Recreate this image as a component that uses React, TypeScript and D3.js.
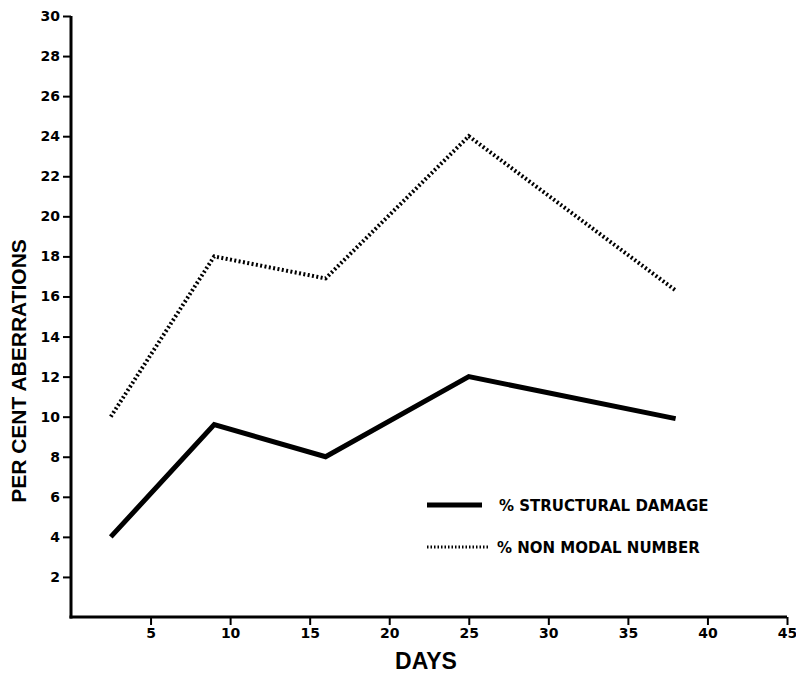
import React, { useEffect, useRef } from 'react';
import * as d3 from 'd3';

const days = [2.5, 9, 16, 25, 38];
const structuralDamage = [4, 9.6, 8, 12, 9.9];
const nonModalNumber = [10, 18, 16.9, 24, 16.3];
const xTicks = [5, 10, 15, 20, 25, 30, 35, 40, 45];
const yTicks = [2, 4, 6, 8, 10, 12, 14, 16, 18, 20, 22, 24, 26, 28, 30];

const FONT = '"Liberation Sans", Arial, sans-serif';
const WIDE_FONT = '"DejaVu Sans", sans-serif';

const App = () => {
  const svgRef = useRef<SVGSVGElement | null>(null);

  useEffect(() => {
    const svg = d3.select(svgRef.current);
    svg.selectAll('*').remove();

    const x = d3.scaleLinear().domain([0, 45]).range([71, 787]);
    const y = d3.scaleLinear().domain([0, 30]).range([617, 16]);

    // axes
    const xAxis = svg.append('g').attr('transform', `translate(0,${y(0)})`)
      .call(d3.axisBottom(x).tickValues(xTicks).tickSize(8).tickPadding(3).tickSizeOuter(0));
    const yAxis = svg.append('g').attr('transform', `translate(${x(0)},0)`)
      .call(d3.axisLeft(y).tickValues(yTicks).tickSize(8).tickPadding(3).tickSizeOuter(0));

    [xAxis, yAxis].forEach(a => {
      a.select('.domain').attr('stroke', '#000').attr('stroke-width', 3);
      a.selectAll('.tick line').attr('stroke', '#000').attr('stroke-width', 2);
      a.selectAll('.tick text')
        .attr('fill', '#000')
        .style('font-family', WIDE_FONT)
        .style('font-weight', 'bold')
        .style('font-size', '14px');
    });
    // domains meet at the corner
    xAxis.select('.domain').attr('d', `M${x(0) - 1.5},0H${x(45)}`);
    yAxis.select('.domain').attr('d', `M0,${y(30)}V${y(0) + 1.5}`);

    const pts = (vals: number[]) => days.map((d, i) => [d, vals[i]] as [number, number]);
    const line = d3.line<[number, number]>().x(d => x(d[0])).y(d => y(d[1]));

    svg.append('path')
      .datum(pts(nonModalNumber))
      .attr('d', line)
      .attr('fill', 'none')
      .attr('stroke', '#000')
      .attr('stroke-width', 4)
      .attr('stroke-dasharray', '2,2.4');

    svg.append('path')
      .datum(pts(structuralDamage))
      .attr('d', line)
      .attr('fill', 'none')
      .attr('stroke', '#000')
      .attr('stroke-width', 5)
      .attr('stroke-linejoin', 'miter');

    // legend
    const legend = svg.append('g');
    legend.append('line')
      .attr('x1', 427).attr('x2', 482).attr('y1', 505).attr('y2', 505)
      .attr('stroke', '#000').attr('stroke-width', 5);
    legend.append('line')
      .attr('x1', 427).attr('x2', 488).attr('y1', 547).attr('y2', 547)
      .attr('stroke', '#000').attr('stroke-width', 3).attr('stroke-dasharray', '1.5,2');
    legend.append('text')
      .attr('x', 499).attr('y', 511)
      .text('% STRUCTURAL DAMAGE');
    legend.append('text')
      .attr('x', 497).attr('y', 553)
      .text('% NON MODAL NUMBER');
    legend.selectAll('text')
      .style('font-family', WIDE_FONT)
      .style('font-weight', 'bold')
      .style('font-size', '15px')
      .attr('fill', '#000');

    // axis titles
    svg.append('text')
      .attr('x', 426).attr('y', 669)
      .attr('text-anchor', 'middle')
      .style('font-family', FONT)
      .style('font-weight', 'bold')
      .style('font-size', '23px')
      .text('DAYS');

    svg.append('text')
      .attr('transform', 'translate(26,371) rotate(-90)')
      .attr('text-anchor', 'middle')
      .style('font-family', FONT)
      .style('font-weight', 'bold')
      .style('font-size', '21px')
      .text('PER CENT ABERRATIONS');
  }, []);

  return (
    <svg
      ref={svgRef}
      width={796}
      height={675}
      style={{ position: 'absolute', left: 0, top: 0, background: '#fff' }}
    />
  );
};

export default App;
